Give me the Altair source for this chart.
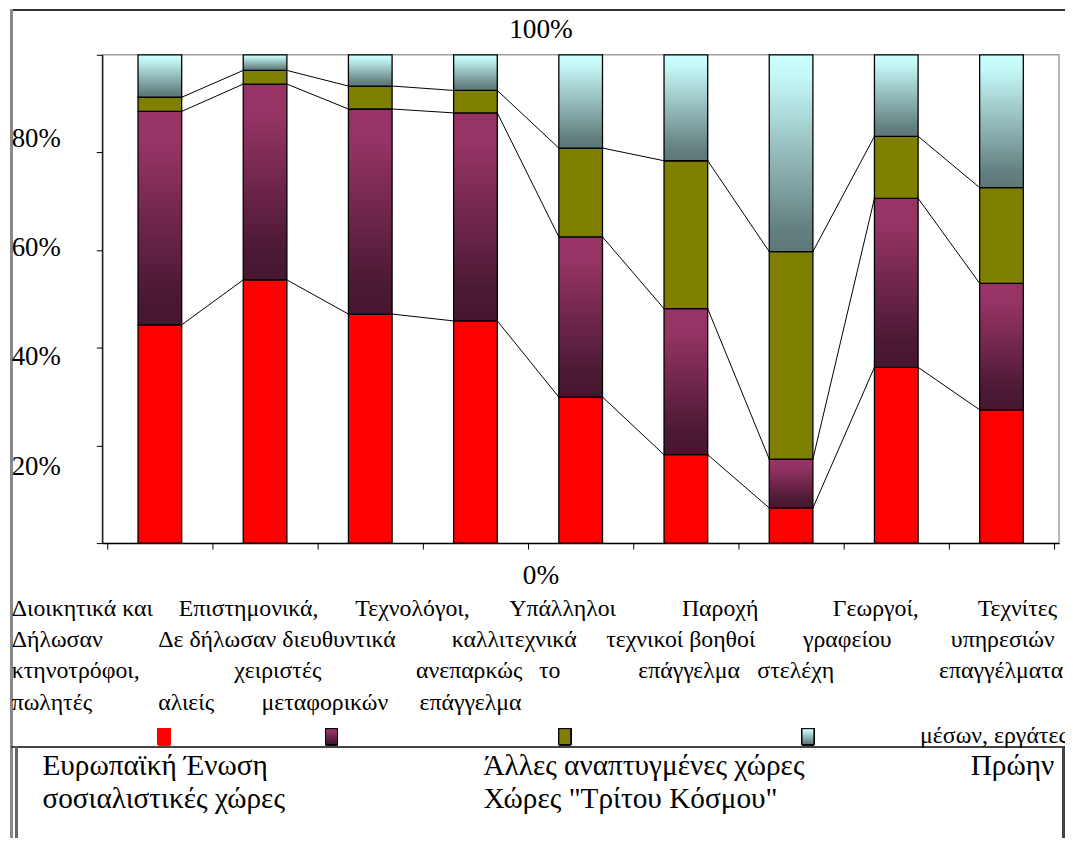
import altair as alt
import pandas as pd

FONT = "Liberation Serif"

# ---------------- data ----------------
categories = [
    "Διοικητικά και διευθυντικά στελέχη",
    "Επιστημονικά, καλλιτεχνικά επάγγελμα",
    "Τεχνολόγοι, τεχνικοί βοηθοί",
    "Υπάλληλοι γραφείου",
    "Παροχή υπηρεσιών, πωλητές",
    "Γεωργοί, κτηνοτρόφοι, αλιείς",
    "Τεχνίτες, χειριστές μεταφορικών μέσων, εργάτες",
    "Δήλωσαν ανεπαρκώς το επάγγελμα",
    "Δε δήλωσαν επάγγελμα",
]
series = [
    "Ευρωπαϊκή Ένωση",
    "Άλλες αναπτυγμένες χώρες",
    "Πρώην σοσιαλιστικές χώρες",
    'Χώρες "Τρίτου Κόσμου"',
]
eu = [44.7, 53.9, 46.9, 45.5, 29.9, 18.1, 7.2, 36.0, 27.3]
other_dev = [43.7, 40.1, 42.0, 42.6, 32.8, 29.9, 10.0, 34.6, 25.9]
ex_soc = [2.9, 2.8, 4.7, 4.6, 18.2, 30.3, 42.5, 12.7, 19.6]
third = [8.7, 3.2, 6.4, 7.3, 19.1, 21.7, 40.3, 16.7, 27.2]
y_ticks = [0, 20, 40, 60, 80, 100]

# ---------------- styles ----------------
RED = "#ff0000"
OLIVE = "#808000"
PURPLE_GRAD = alt.LinearGradient(
    gradient="linear", x1=0, x2=0, y1=0, y2=1,
    stops=[alt.GradientStop(color="#993366", offset=0),
           alt.GradientStop(color="#963465", offset=0.15),
           alt.GradientStop(color="#4b1934", offset=0.85),
           alt.GradientStop(color="#46162f", offset=1)])
CYAN_GRAD = alt.LinearGradient(
    gradient="linear", x1=0, x2=0, y1=0, y2=1,
    stops=[alt.GradientStop(color="#ccffff", offset=0),
           alt.GradientStop(color="#c4f6f6", offset=0.12),
           alt.GradientStop(color="#627e7e", offset=0.9),
           alt.GradientStop(color="#5c7878", offset=1)])
fills = [RED, PURPLE_GRAD, OLIVE, CYAN_GRAD]

# plot-area geometry (page px): left 103, top 52
OX, OY = 103, 52
W, H = 964, 492

# ---------------- tables ----------------
vals = [eu, other_dev, ex_soc, third]
rows = []
for i, cat in enumerate(categories):
    tot = sum(v[i] for v in vals)
    c = 0.0
    for s, v in zip(series, vals):
        y0 = c
        c += v[i] / tot * 100
        rows.append({"cat": cat, "xc": i + 0.5, "series": s, "y0": y0, "y1": c})
bars = pd.DataFrame(rows)

lrows = []
for i in range(len(categories) - 1):
    for s in series[:3]:
        a = bars[(bars.cat == categories[i]) & (bars.series == s)].iloc[0]
        b = bars[(bars.cat == categories[i + 1]) & (bars.series == s)].iloc[0]
        lrows.append({"x": a.xc, "x2": b.xc, "y": a.y1, "y2": b.y1})
lines = pd.DataFrame(lrows)

xscale = alt.Scale(domain=[0, len(categories)], nice=False, zero=False)
yscale = alt.Scale(domain=[0, 100], nice=False, zero=False)

base_x_axis = alt.Axis(values=list(range(len(categories) + 1)), labels=False, title=None,
                       grid=False, ticks=True, tickSize=6, tickColor="black",
                       domainColor="black", domainWidth=1.2)
base_y_axis = alt.Axis(values=y_ticks, labels=False, title=None, grid=False,
                       tickSize=6, tickColor="black", domainColor="black", domainWidth=1.2)

line_layer = alt.Chart(lines).mark_rule(color="black", strokeWidth=1, xOffset=22, x2Offset=-22).encode(
    x=alt.X("x:Q", scale=xscale, axis=base_x_axis),
    x2="x2:Q",
    y=alt.Y("y:Q", scale=yscale, axis=base_y_axis),
    y2="y2:Q",
)

bar_layers = []
for s, f in zip(series, fills):
    bar_layers.append(
        alt.Chart(bars).transform_filter(alt.datum.series == s)
        .mark_bar(size=44, fill=f, stroke="black", strokeWidth=1.3)
        .encode(x=alt.X("xc:Q", scale=xscale, axis=base_x_axis),
                y=alt.Y("y0:Q", scale=yscale, axis=base_y_axis),
                y2="y1:Q",
                tooltip=["cat:N", "series:N"])
    )

# ---------------- texts (layout of the rendered labels) ----------------
def tl(items, size, align="left", baseline="alphabetic"):
    df = pd.DataFrame([{"t": t, "vx": x - OX, "vy": y - OY} for t, x, y in items])
    return alt.Chart(df).mark_text(font=FONT, fontSize=size, align=align, baseline=baseline,
                                   color="black").encode(
        x=alt.X("vx:Q", scale=None, axis=None),
        y=alt.Y("vy:Q", scale=None, axis=None),
        text="t:N")

tick_side = [(f"{v}%", 11.7, 585 - 5.5 * v) for v in y_ticks if v not in (0, 100)]
tick_mid = [(f"{v}%", 545, 585 - 5.5 * v) for v in y_ticks if v in (0, 100)]

cat_frag = [
    ("Διοικητικά και", 11.7, 617), ("Επιστημονικά,", 180, 617), ("Τεχνολόγοι,", 358, 617),
    ("Υπάλληλοι", 513, 617), ("Παροχή", 687, 617), ("Γεωργοί,", 839, 617), ("Τεχνίτες", 985, 617),
    ("Δήλωσαν", 11.7, 649), ("Δε δήλωσαν διευθυντικά", 159.3, 649), ("καλλιτεχνικά", 455, 649),
    ("τεχνικοί βοηθοί", 610.7, 649), ("γραφείου", 809, 649), ("υπηρεσιών", 958, 649),
    ("κτηνοτρόφοι,", 11.7, 680), ("χειριστές", 236, 680), ("ανεπαρκώς", 419, 680), ("το", 543, 680),
    ("επάγγελμα", 643, 680), ("στελέχη", 763, 680), ("επαγγέλματα", 946, 680),
    ("πωλητές", 11.7, 712), ("αλιείς", 159.3, 712), ("μεταφορικών", 263.3, 712), ("επάγγελμα", 422.7, 712),
    ("μέσων, εργάτες", 927, 745),
]
leg_frag = [
    ("Ευρωπαϊκή Ένωση", 42.7, 778), ("Άλλες αναπτυγμένες χώρες", 487, 778), ("Πρώην", 978, 778),
    ("σοσιαλιστικές χώρες", 42.7, 811), ('Χώρες "Τρίτου Κόσμου"', 487, 811),
]

def hrule(x1, x2, y, color, w):
    return alt.Chart(bars).mark_rule(color=color, strokeWidth=w).encode(
        x=alt.value(x1 - OX), x2=alt.value(x2 - OX), y=alt.value(y - OY))

def vrule(x, y1, y2, color, w):
    return alt.Chart(bars).mark_rule(color=color, strokeWidth=w).encode(
        x=alt.value(x - OX), y=alt.value(y1 - OY), y2=alt.value(y2 - OY))

frames = [
    hrule(11, 1080, 6.5, "#333333", 1.2),
    vrule(11.7, 6, 860, "#8a8a8a", 2),
    hrule(11, 1072, 749.5, "#444444", 1.5),
    vrule(16.4, 749, 860, "#666666", 1.5),
    vrule(1071.5, 749, 860, "#444444", 1.5),
]

sq_x = [159.5, 328, 563, 808]
squares = []
for x, f, st in zip(sq_x, fills, [RED, "black", "black", "black"]):
    squares.append(
        alt.Chart(bars).mark_rect(fill=f, stroke=st, strokeWidth=1).encode(
            x=alt.value(x - OX), x2=alt.value(x + 12 - OX),
            y=alt.value(731 - OY), y2=alt.value(747 - OY)))

chart = alt.layer(
    line_layer, *bar_layers, *frames, *squares,
    tl(tick_side, 27), tl(tick_mid, 27.5, align="center"),
    tl(cat_frag, 24), tl(leg_frag, 29.5),
).properties(
    width=W, height=H,
    autosize=alt.AutoSizeParams(type="none"),
    padding={"left": 95, "top": 44, "right": 6, "bottom": 294},
    background="white",
).configure_view(stroke="#a0a0a0", strokeWidth=1.5)

chart.save("out.html", embed_options={"renderer": "svg", "actions": False})
